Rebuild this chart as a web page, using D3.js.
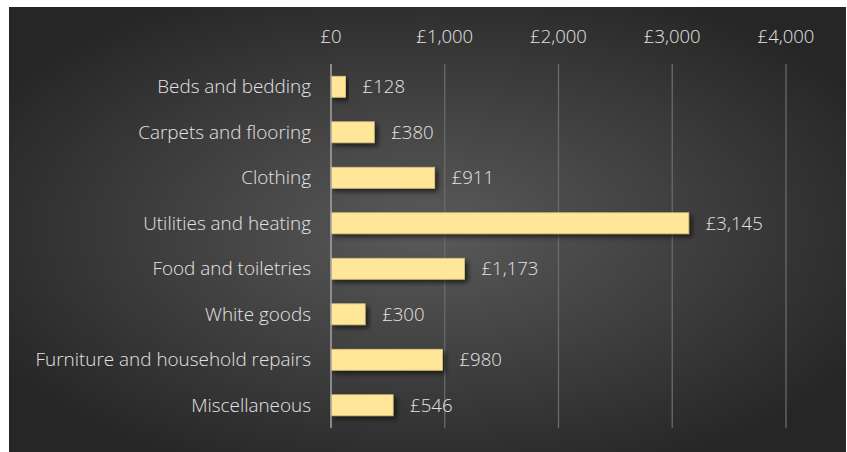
<!DOCTYPE html>
<html>
<head>
<script src="https://cdn.jsdelivr.net/npm/d3@7"></script>
<style>
  body { margin: 0; background: #fff; }
  text { font-family: "Open Sans", sans-serif; fill: #e3e3e3; font-weight: 300; }
</style>
</head>
<body>
<div id="chart"></div>
<script>
  'use strict'
  const categories = ['Beds and bedding', 'Carpets and flooring', 'Clothing', 'Utilities and heating',
    'Food and toiletries', 'White goods', 'Furniture and household repairs', 'Miscellaneous']
  const amounts = [128, 380, 911, 3145, 1173, 300, 980, 546]
  const tickValues = [0, 1000, 2000, 3000, 4000]

  let w = 847, h = 452
  let margins = {top: 64, bottom: 24, left: 331, right: 61}

  let svg = d3.select('#chart').append('svg')
    .attr('width', w)
    .attr('height', h)

  let defs = svg.append('defs')
  let grad = defs.append('radialGradient').attr('id', 'bg')
    .attr('cx', '50%').attr('cy', '50%').attr('r', '60%')
  grad.append('stop').attr('offset', '0%').attr('stop-color', '#5a5a5a')
  grad.append('stop').attr('offset', '100%').attr('stop-color', '#262626')

  let shadow = defs.append('filter').attr('id', 'shadow')
    .attr('x', '-10%').attr('y', '-30%').attr('width', '130%').attr('height', '180%')
  shadow.append('feDropShadow')
    .attr('dx', 3).attr('dy', 3).attr('stdDeviation', 2.5)
    .attr('flood-color', '#000').attr('flood-opacity', 0.6)

  svg.append('rect')
    .attr('x', 9).attr('y', 7)
    .attr('width', 837).attr('height', 445)
    .attr('fill', 'url(#bg)')

  let x = d3.scaleLinear().domain([0, 4000]).range([margins.left, 786])
  let y = d3.scaleBand().domain(categories).range([margins.top, 428]).paddingInner(0.54).paddingOuter(0.27)

  // gridlines
  svg.append('g').selectAll('line')
    .data(tickValues.slice(1))
    .enter().append('line')
    .attr('x1', d => x(d)).attr('x2', d => x(d))
    .attr('y1', 64).attr('y2', 428)
    .attr('stroke', '#6a6a6a').attr('stroke-width', 1.3)

  // tick labels
  svg.append('g').selectAll('text')
    .data(tickValues)
    .enter().append('text')
    .attr('x', d => x(d)).attr('y', 43)
    .attr('text-anchor', 'middle')
    .style('font-size', '18.5px')
    .text(d => '£' + d3.format(',')(d))

  // bars
  svg.append('g').selectAll('rect')
    .data(amounts)
    .enter().append('rect')
    .attr('x', x(0))
    .attr('y', (d, i) => y(categories[i]))
    .attr('width', d => x(d) - x(0))
    .attr('height', y.bandwidth())
    .attr('fill', '#ffe699')
    .attr('stroke', '#d9c37f')
    .attr('stroke-width', 0.8)
    .attr('filter', 'url(#shadow)')

  // value labels
  svg.append('g').selectAll('text')
    .data(amounts)
    .enter().append('text')
    .attr('x', d => x(d) + 17)
    .attr('y', (d, i) => y(categories[i]) + y.bandwidth() / 2)
    .attr('dy', '0.35em')
    .style('font-size', '18.6px')
    .text(d => '£' + d3.format(',')(d))

  // category labels
  svg.append('g').selectAll('text')
    .data(categories)
    .enter().append('text')
    .attr('x', 311)
    .attr('y', d => y(d) + y.bandwidth() / 2)
    .attr('dy', '0.35em')
    .attr('text-anchor', 'end')
    .style('font-size', '18.9px')
    .text(d => d)

  // zero axis line
  svg.append('line')
    .attr('x1', x(0)).attr('x2', x(0))
    .attr('y1', 64).attr('y2', 428)
    .attr('stroke', '#a6a6a6').attr('stroke-width', 1.5)
</script>
</body>
</html>
